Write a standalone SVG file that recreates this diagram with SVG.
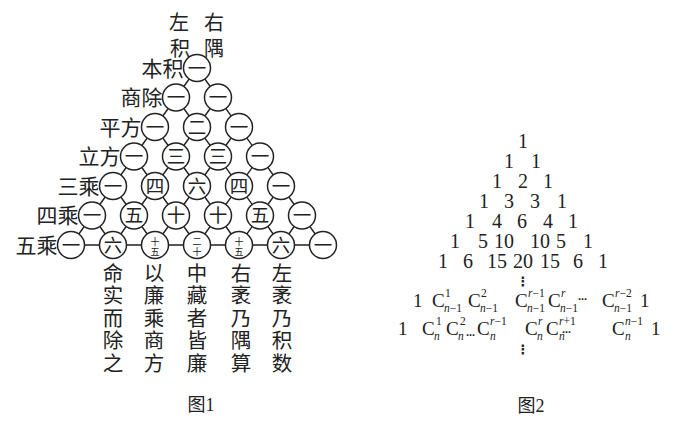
<svg xmlns="http://www.w3.org/2000/svg" width="681" height="426" viewBox="0 0 681 426">
<style>
.bg{fill:#fff}
.ln{stroke:#222;stroke-width:1.4;fill:none}
.cc{fill:#fff;stroke:#222;stroke-width:1.5}
.cn{font-family:"Noto Sans CJK SC",sans-serif;font-size:18.5px;fill:#222;text-anchor:middle}
.cs{font-family:"Noto Sans CJK SC",sans-serif;font-size:9px;fill:#222;text-anchor:middle}
.lb{font-family:"Noto Sans CJK SC",sans-serif;font-size:21px;fill:#222;text-anchor:end}
.tp{font-family:"Noto Sans CJK SC",sans-serif;font-size:20px;fill:#222;text-anchor:middle}
.col{font-family:"Noto Sans CJK SC",sans-serif;font-size:20.5px;fill:#222;text-anchor:middle}
.cap{font-family:"Liberation Serif","Noto Sans CJK SC",serif;font-size:18px;fill:#222;text-anchor:middle}
.nm{font-family:"Liberation Serif",serif;font-size:20px;fill:#222;text-anchor:middle}
.f{font-family:"Liberation Serif",serif;font-size:19px;fill:#222}
.s{font-family:"Liberation Serif",serif;font-size:11.5px;fill:#222}
.dt{font-family:"DejaVu Sans",sans-serif;font-size:9px;font-weight:bold;fill:#222}
.vd{font-family:"DejaVu Sans",sans-serif;font-size:13px;font-weight:bold;fill:#222;text-anchor:middle}
</style>
<rect class="bg" width="681" height="426"/>

<g id="connectors">
<path class="ln" d="M197 68L71 245M218 97.5L113 245M239 127L155 245M260 156.5L197 245M281 186L239 245M302 215.5L281 245M197 68L323 245M176 97.5L281 245M155 127L239 245M134 156.5L197 245M113 186L155 245M92 215.5L113 245M71 245H323"/>
</g>

<g id="top-labels">
<text class="tp" x="179" y="30">左</text>
<text class="tp" x="214" y="30">右</text>
<text class="tp" x="180" y="56">积</text>
<text class="tp" x="214" y="56">隅</text>
</g>

<g id="row-labels">
<text class="lb" x="183.5" y="75.5">本积</text>
<text class="lb" x="162.5" y="105">商除</text>
<text class="lb" x="141.5" y="134.5">平方</text>
<text class="lb" x="120.5" y="164">立方</text>
<text class="lb" x="99.5" y="193.5">三乘</text>
<text class="lb" x="78.5" y="223">四乘</text>
<text class="lb" x="57.5" y="252.5">五乘</text>
</g>

<g id="n0-0"><circle class="cc" cx="197" cy="68" r="13.5"/><text class="cn" x="197" y="74.5">一</text></g>
<g id="n1-0"><circle class="cc" cx="176" cy="97.5" r="13.5"/><text class="cn" x="176" y="104">一</text></g>
<g id="n1-1"><circle class="cc" cx="218" cy="97.5" r="13.5"/><text class="cn" x="218" y="104">一</text></g>
<g id="n2-0"><circle class="cc" cx="155" cy="127" r="13.5"/><text class="cn" x="155" y="133.5">一</text></g>
<g id="n2-1"><circle class="cc" cx="197" cy="127" r="13.5"/><text class="cn" x="197" y="133.5">二</text></g>
<g id="n2-2"><circle class="cc" cx="239" cy="127" r="13.5"/><text class="cn" x="239" y="133.5">一</text></g>
<g id="n3-0"><circle class="cc" cx="134" cy="156.5" r="13.5"/><text class="cn" x="134" y="163">一</text></g>
<g id="n3-1"><circle class="cc" cx="176" cy="156.5" r="13.5"/><text class="cn" x="176" y="163">三</text></g>
<g id="n3-2"><circle class="cc" cx="218" cy="156.5" r="13.5"/><text class="cn" x="218" y="163">三</text></g>
<g id="n3-3"><circle class="cc" cx="260" cy="156.5" r="13.5"/><text class="cn" x="260" y="163">一</text></g>
<g id="n4-0"><circle class="cc" cx="113" cy="186" r="13.5"/><text class="cn" x="113" y="192.5">一</text></g>
<g id="n4-1"><circle class="cc" cx="155" cy="186" r="13.5"/><text class="cn" x="155" y="192.5">四</text></g>
<g id="n4-2"><circle class="cc" cx="197" cy="186" r="13.5"/><text class="cn" x="197" y="192.5">六</text></g>
<g id="n4-3"><circle class="cc" cx="239" cy="186" r="13.5"/><text class="cn" x="239" y="192.5">四</text></g>
<g id="n4-4"><circle class="cc" cx="281" cy="186" r="13.5"/><text class="cn" x="281" y="192.5">一</text></g>
<g id="n5-0"><circle class="cc" cx="92" cy="215.5" r="13.5"/><text class="cn" x="92" y="222">一</text></g>
<g id="n5-1"><circle class="cc" cx="134" cy="215.5" r="13.5"/><text class="cn" x="134" y="222">五</text></g>
<g id="n5-2"><circle class="cc" cx="176" cy="215.5" r="13.5"/><text class="cn" x="176" y="222">十</text></g>
<g id="n5-3"><circle class="cc" cx="218" cy="215.5" r="13.5"/><text class="cn" x="218" y="222">十</text></g>
<g id="n5-4"><circle class="cc" cx="260" cy="215.5" r="13.5"/><text class="cn" x="260" y="222">五</text></g>
<g id="n5-5"><circle class="cc" cx="302" cy="215.5" r="13.5"/><text class="cn" x="302" y="222">一</text></g>
<g id="n6-0"><circle class="cc" cx="71" cy="245" r="13.5"/><text class="cn" x="71" y="251.5">一</text></g>
<g id="n6-1"><circle class="cc" cx="113" cy="245" r="13.5"/><text class="cn" x="113" y="251.5">六</text></g>
<g id="n6-2"><circle class="cc" cx="155" cy="245" r="13.5"/><text class="cs" x="155"><tspan x="155" y="244.5">十</tspan><tspan x="155" y="254.5">五</tspan></text></g>
<g id="n6-3"><circle class="cc" cx="197" cy="245" r="13.5"/><text class="cs" x="197"><tspan x="197" y="244.5">二</tspan><tspan x="197" y="254.5">十</tspan></text></g>
<g id="n6-4"><circle class="cc" cx="239" cy="245" r="13.5"/><text class="cs" x="239"><tspan x="239" y="244.5">十</tspan><tspan x="239" y="254.5">五</tspan></text></g>
<g id="n6-5"><circle class="cc" cx="281" cy="245" r="13.5"/><text class="cn" x="281" y="251.5">六</text></g>
<g id="n6-6"><circle class="cc" cx="323" cy="245" r="13.5"/><text class="cn" x="323" y="251.5">一</text></g>

<g id="columns">
<text class="col" x="113"><tspan x="113" y="281">命</tspan><tspan x="113" y="303.4">实</tspan><tspan x="113" y="325.8">而</tspan><tspan x="113" y="348.2">除</tspan><tspan x="113" y="370.6">之</tspan></text>
<text class="col" x="154"><tspan x="154" y="281">以</tspan><tspan x="154" y="303.4">廉</tspan><tspan x="154" y="325.8">乘</tspan><tspan x="154" y="348.2">商</tspan><tspan x="154" y="370.6">方</tspan></text>
<text class="col" x="197"><tspan x="197" y="281">中</tspan><tspan x="197" y="303.4">藏</tspan><tspan x="197" y="325.8">者</tspan><tspan x="197" y="348.2">皆</tspan><tspan x="197" y="370.6">廉</tspan></text>
<text class="col" x="241"><tspan x="241" y="281">右</tspan><tspan x="241" y="303.4">袤</tspan><tspan x="241" y="325.8">乃</tspan><tspan x="241" y="348.2">隅</tspan><tspan x="241" y="370.6">算</tspan></text>
<text class="col" x="282"><tspan x="282" y="281">左</tspan><tspan x="282" y="303.4">袤</tspan><tspan x="282" y="325.8">乃</tspan><tspan x="282" y="348.2">积</tspan><tspan x="282" y="370.6">数</tspan></text>
</g>
<text class="cap" x="201" y="411">图1</text>

<g id="pascal">
<text class="nm" x="523" y="148">1</text>
<text class="nm" x="509" y="168">1</text><text class="nm" x="536" y="168">1</text>
<text class="nm" x="497" y="188">1</text><text class="nm" x="523" y="188">2</text><text class="nm" x="548" y="188">1</text>
<text class="nm" x="484" y="208">1</text><text class="nm" x="509" y="208">3</text><text class="nm" x="535" y="208">3</text><text class="nm" x="562" y="208">1</text>
<text class="nm" x="470" y="228">1</text><text class="nm" x="497" y="228">4</text><text class="nm" x="522" y="228">6</text><text class="nm" x="548" y="228">4</text><text class="nm" x="573" y="228">1</text>
<text class="nm" x="455" y="248">1</text><text class="nm" x="483" y="248">5</text><text class="nm" x="504" y="248">10</text><text class="nm" x="540" y="248">10</text><text class="nm" x="561" y="248">5</text><text class="nm" x="588" y="248">1</text>
<text class="nm" x="443" y="268">1</text><text class="nm" x="468" y="268">6</text><text class="nm" x="497" y="268">15</text><text class="nm" x="523" y="268">20</text><text class="nm" x="550" y="268">15</text><text class="nm" x="578" y="268">6</text><text class="nm" x="603" y="268">1</text>
<text class="vd" x="523" y="286">⋮</text>
</g>

<g id="formula-row1">
<text class="f" x="413" y="307">1</text>
<text class="f" x="432" y="307">C</text><text class="s" x="445" y="297">1</text><text class="s" x="444" y="312"><tspan font-style="italic">n</tspan>−1</text>
<text class="f" x="468" y="307">C</text><text class="s" x="481" y="297">2</text><text class="s" x="480" y="312"><tspan font-style="italic">n</tspan>−1</text>
<text class="f" x="515" y="307">C</text><text class="s" x="528" y="297"><tspan font-style="italic">r</tspan>−1</text><text class="s" x="527" y="312"><tspan font-style="italic">n</tspan>−1</text>
<text class="f" x="548" y="307">C</text><text class="s" x="561" y="297" font-style="italic">r</text><text class="s" x="560" y="312"><tspan font-style="italic">n</tspan>−1</text>
<text class="dt" x="578" y="300">…</text>
<text class="f" x="602" y="307">C</text><text class="s" x="615" y="297"><tspan font-style="italic">r</tspan>−2</text><text class="s" x="614" y="312"><tspan font-style="italic">n</tspan>−1</text>
<text class="f" x="640" y="307">1</text>
</g>

<g id="formula-row2">
<text class="f" x="398" y="335">1</text>
<text class="f" x="422" y="335">C</text><text class="s" x="436" y="325">1</text><text class="s" x="434" y="340" font-style="italic">n</text>
<text class="f" x="446" y="335">C</text><text class="s" x="460" y="325">2</text><text class="s" x="458" y="340" font-style="italic">n</text>
<text class="dt" x="466" y="336">…</text>
<text class="f" x="477" y="335">C</text><text class="s" x="490" y="325"><tspan font-style="italic">r</tspan>−1</text><text class="s" x="490" y="340" font-style="italic">n</text>
<text class="f" x="525" y="335">C</text><text class="s" x="538" y="325" font-style="italic">r</text><text class="s" x="537" y="340" font-style="italic">n</text>
<text class="f" x="546" y="335">C</text><text class="s" x="559" y="325"><tspan font-style="italic">r</tspan>+1</text><text class="s" x="559" y="340" font-style="italic">n</text>
<text class="dt" x="562" y="333">…</text>
<text class="f" x="612" y="335">C</text><text class="s" x="625" y="325"><tspan font-style="italic">n</tspan>−1</text><text class="s" x="625" y="340" font-style="italic">n</text>
<text class="f" x="651" y="335">1</text>
<text class="vd" x="523" y="354">⋮</text>
</g>
<text class="cap" x="531" y="412">图2</text>
</svg>
